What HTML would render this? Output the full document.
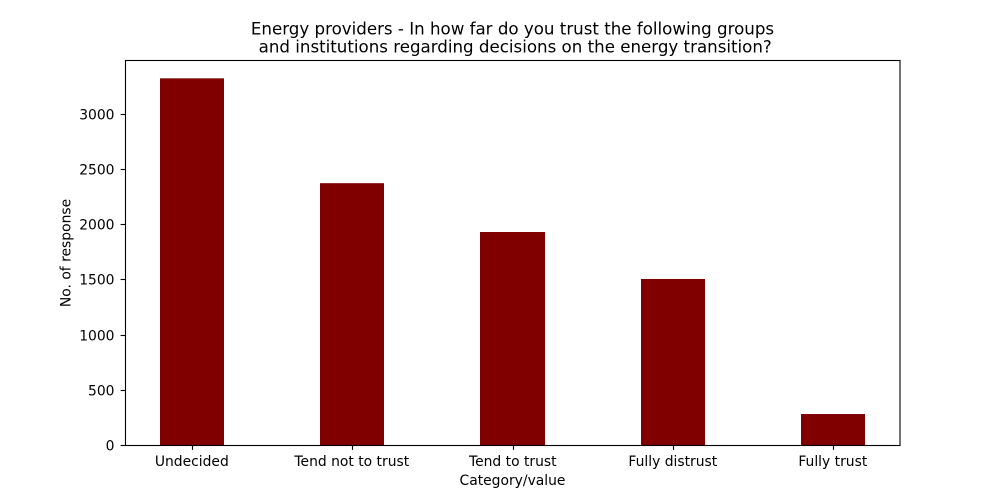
<!DOCTYPE html>
<html lang="en">
<head>
<meta charset="utf-8">
<title>Energy providers trust chart</title>
<style>
html,body{margin:0;padding:0;background:#fff;width:1000px;height:500px;overflow:hidden}
svg{display:block}
text{font-family:"DejaVu Sans","Liberation Sans",sans-serif;fill:#000}
.tick{font-size:13.89px}
.title{font-size:16.67px}
</style>
</head>
<body>
<svg id="chart" width="1000" height="500" viewBox="0 0 1000 500" xmlns="http://www.w3.org/2000/svg">
  <rect x="0" y="0" width="1000" height="500" fill="#fff"/>
  <g id="bars"></g>
  <g id="ticks"></g>
  <rect x="125.5" y="60.5" width="774.5" height="385" fill="none" stroke="#000" stroke-width="1.1"/>
  <text class="title" x="512.5" y="34.5" text-anchor="middle">Energy providers - In how far do you trust the following groups</text>
  <text class="title" x="515.2" y="52.5" text-anchor="middle">and institutions regarding decisions on the energy transition?</text>
  <text class="tick" x="512.5" y="485" text-anchor="middle">Category/value</text>
  <text class="tick" transform="translate(70.5,253) rotate(-90)" text-anchor="middle">No. of response</text>
</svg>
<script>
const categories = ["Undecided", "Tend not to trust", "Tend to trust", "Fully distrust", "Fully trust"];
const responses = [3326, 2375, 1932, 1506, 281];
const yTickValues = [0, 500, 1000, 1500, 2000, 2500, 3000];

const plotLeft = 125, plotRight = 900, plotTop = 60, plotBottom = 445;
const barWidth = 0.4;
const NS = "http://www.w3.org/2000/svg";
const xMin = -barWidth / 2 - 0.05 * (categories.length - 1 + barWidth);
const xMax = categories.length - 1 + barWidth / 2 + 0.05 * (categories.length - 1 + barWidth);
const yMax = Math.max(...responses) * 1.05;
function xScale(v) { return plotLeft + (v - xMin) / (xMax - xMin) * (plotRight - plotLeft); }
function yScale(v) { return plotBottom - v / yMax * (plotBottom - plotTop); }

const barsGroup = document.getElementById("bars");
const ticksGroup = document.getElementById("ticks");

function make(tag, attrs, parent) {
  const el = document.createElementNS(NS, tag);
  for (const k in attrs) el.setAttribute(k, attrs[k]);
  parent.appendChild(el);
  return el;
}

responses.forEach(function (value, i) {
  const x0 = Math.round(xScale(i - barWidth / 2));
  const x1 = Math.round(xScale(i + barWidth / 2));
  const yTop = yScale(value);
  const bar = make("rect", { x: x0, y: yTop, width: x1 - x0, height: plotBottom - yTop, fill: "#800000" }, barsGroup);
  
  
});

categories.forEach(function (name, i) {
  const x = Math.round(xScale(i)) + 0.5;
  const tick = make("line", { x1: x, x2: x, y1: plotBottom, y2: plotBottom + 4.86, stroke: "#000", "stroke-width": 1.1 }, ticksGroup);
  
  
  const label = make("text", { x: x - 0.7, y: plotBottom + 21, "text-anchor": "middle", class: "tick" }, ticksGroup);
  label.textContent = name;
  
  
});

yTickValues.forEach(function (value) {
  const y = Math.round(yScale(value) - 0.2) + 0.5;
  const tick = make("line", { x1: plotLeft - 4.4, x2: plotLeft + 0.5, y1: y, y2: y, stroke: "#000", "stroke-width": 1.1 }, ticksGroup);
  
  
  const label = make("text", { x: plotLeft - 10.5, y: y + 5, "text-anchor": "end", class: "tick" }, ticksGroup);
  label.textContent = String(value);
  
  
});
</script>
</body>
</html>
